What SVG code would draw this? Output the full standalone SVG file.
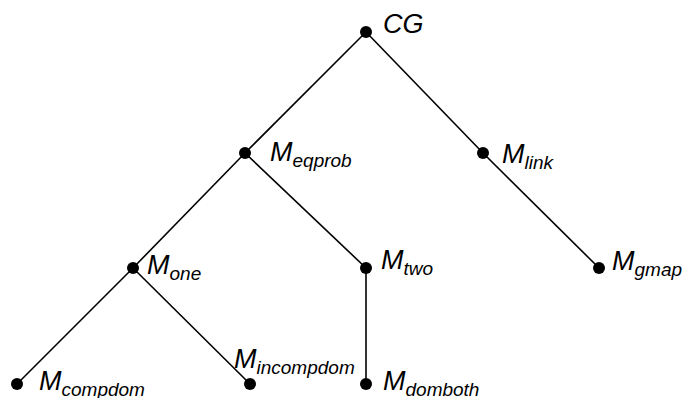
<svg xmlns="http://www.w3.org/2000/svg" width="684" height="398" viewBox="0 0 684 398">
  <style>
    .edge { stroke: #000; stroke-width: 1.6; fill: none; }
    .dot { fill: #000; }
    .lbl { font-family: "Liberation Sans", Arial, sans-serif; font-style: italic; font-size: 27px; fill: #000; }
    .sub { font-size: 19px; }
  </style>
  <rect width="684" height="398" fill="#fff"/>
  <g id="connectors">
    <line class="edge" x1="366" y1="32" x2="245" y2="153"/>
    <line class="edge" x1="366" y1="32" x2="483" y2="153"/>
    <line class="edge" x1="245" y1="153" x2="133" y2="268"/>
    <line class="edge" x1="245" y1="153" x2="366" y2="268"/>
    <line class="edge" x1="483" y1="153" x2="599" y2="268"/>
    <line class="edge" x1="133" y1="268" x2="17" y2="384"/>
    <line class="edge" x1="133" y1="268" x2="250" y2="384"/>
    <line class="edge" x1="366" y1="268" x2="366" y2="384"/>
  </g>
  <g id="CG">
    <circle class="dot" cx="366" cy="32" r="6"/>
    <text class="lbl" x="383" y="33">CG</text>
  </g>
  <g id="M_eqprob">
    <circle class="dot" cx="245" cy="153" r="6"/>
    <text class="lbl" x="270" y="161">M<tspan class="sub" dy="6">eqprob</tspan></text>
  </g>
  <g id="M_link">
    <circle class="dot" cx="483" cy="153" r="6"/>
    <text class="lbl" x="502" y="163">M<tspan class="sub" dy="6">link</tspan></text>
  </g>
  <g id="M_one">
    <circle class="dot" cx="133" cy="268" r="6"/>
    <text class="lbl" x="147" y="274">M<tspan class="sub" dy="6">one</tspan></text>
  </g>
  <g id="M_two">
    <circle class="dot" cx="366" cy="268" r="6"/>
    <text class="lbl" x="381" y="269">M<tspan class="sub" dy="6">two</tspan></text>
  </g>
  <g id="M_gmap">
    <circle class="dot" cx="599" cy="268" r="6"/>
    <text class="lbl" x="612" y="270">M<tspan class="sub" dy="6">gmap</tspan></text>
  </g>
  <g id="M_compdom">
    <circle class="dot" cx="17" cy="384" r="6"/>
    <text class="lbl" x="39" y="390">M<tspan class="sub" dy="6">compdom</tspan></text>
  </g>
  <g id="M_incompdom">
    <circle class="dot" cx="250" cy="384" r="6"/>
    <text class="lbl" x="234" y="368">M<tspan class="sub" dy="6">incompdom</tspan></text>
  </g>
  <g id="M_domboth">
    <circle class="dot" cx="366" cy="384" r="6"/>
    <text class="lbl" x="383" y="390">M<tspan class="sub" dy="6">domboth</tspan></text>
  </g>
</svg>
